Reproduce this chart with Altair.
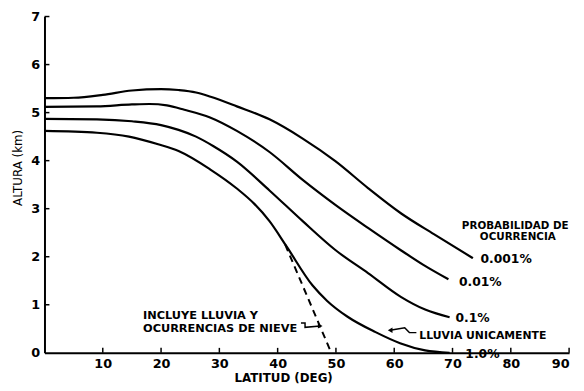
import altair as alt
import pandas as pd

# curve data (latitude in deg, altitude in km)
lat_0001 = [0, 5, 10, 15, 20, 23, 26, 28.5, 33, 38.6, 44.3, 49.9, 55.5, 61.2, 66.8, 73.5]
alt_0001 = [5.30, 5.31, 5.37, 5.46, 5.49, 5.47, 5.42, 5.33, 5.13, 4.86, 4.46, 3.99, 3.43, 2.90, 2.47, 1.97]

lat_001 = [0, 9, 15, 18, 21, 24, 28.4, 33, 38.6, 44.3, 49.9, 55.5, 61.2, 65, 69.3]
alt_001 = [5.12, 5.13, 5.17, 5.18, 5.15, 5.06, 4.90, 4.62, 4.18, 3.60, 3.08, 2.60, 2.13, 1.83, 1.53]

lat_01 = [0, 9, 15, 20, 23, 26, 29, 33, 38.6, 44.3, 49.9, 55.5, 61.2, 65.3, 69.5]
alt_01 = [4.87, 4.86, 4.82, 4.74, 4.64, 4.50, 4.30, 3.98, 3.38, 2.74, 2.14, 1.66, 1.16, 0.90, 0.74]

lat_1 = [0, 9, 14.5, 19.5, 23, 28.4, 33, 36, 38.6, 41.5, 46, 48.5, 52, 56.8, 61, 65.3, 69.5]
alt_1 = [4.62, 4.58, 4.50, 4.34, 4.20, 3.82, 3.42, 3.10, 2.74, 2.22, 1.40, 1.08, 0.75, 0.43, 0.20, 0.05, 0.0]

curve_names = ["0.001%", "0.01%", "0.1%", "1.0%"]

# dashed line (rain + snow)
dash_lat = [41.3, 49.2]
dash_alt = [2.25, 0.0]

# small arrow polylines
nieve_lat = [44.0, 44.7, 44.7, 47.3]
nieve_alt = [0.62, 0.62, 0.53, 0.56]
lluvia_lat = [59.3, 61.8, 62.6, 63.8]
lluvia_alt = [0.47, 0.52, 0.42, 0.42]

# labels
label_texts = ["PROBABILIDAD DE", "OCURRENCIA", "0.001%", "0.01%", "0.1%", "1.0%",
               "LLUVIA UNICAMENTE", "INCLUYE LLUVIA Y", "OCURRENCIAS DE NIEVE"]
label_lat = [71.6, 81.2, 74.8, 71.1, 70.5, 72.2, 64.3, 16.9, 16.9]
label_alt = [2.63, 2.41, 1.95, 1.48, 0.72, -0.03, 0.35, 0.76, 0.49]
label_align = ["left", "center", "left", "left", "left", "left", "left", "left", "left"]
label_size = [10.5, 10.5, 12.5, 12.5, 12.5, 12.5, 11, 11.5, 11.5]

x_ticks = [10, 20, 30, 40, 50, 60, 70, 80, 90]
y_ticks = [0, 1, 2, 3, 4, 5, 6, 7]

W, H = 532, 341
FONT = "DejaVu Sans"

rows = []
for name, la, al in zip(curve_names, [lat_0001, lat_001, lat_01, lat_1],
                        [alt_0001, alt_001, alt_01, alt_1]):
    for i, (a, b) in enumerate(zip(la, al)):
        rows.append({"curve": name, "lat": a, "alt": b, "o": i})
curves = pd.DataFrame(rows)

xs = alt.Scale(domain=[0, 90], nice=False)
ys = alt.Scale(domain=[0, 7], nice=False)

X = alt.X("lat:Q", scale=xs,
          axis=alt.Axis(values=x_ticks, title="LATITUD (DEG)", grid=False, ticks=False,
                        domainColor="black", domainWidth=2, labelFont=FONT, labelFontSize=13,
                        labelFontWeight="bold", labelColor="black", labelPadding=5,
                        titleFont=FONT, titleFontSize=12, titleFontWeight="bold",
                        titleColor="black", titleX=242, titleY=25, titleBaseline="middle"))
Y = alt.Y("alt:Q", scale=ys,
          axis=alt.Axis(values=y_ticks, title="ALTURA (km)", grid=False, ticks=False,
                        domainColor="black", domainWidth=2, labelFont=FONT, labelFontSize=13,
                        labelFontWeight="bold", labelColor="black", labelPadding=5,
                        titleFont=FONT, titleFontSize=12, titleFontWeight="normal",
                        titleColor="black", titleX=-27, titleY=153, titleAngle=-90,
                        titleBaseline="middle"))

lines = alt.Chart(curves).mark_line(color="black", strokeWidth=2.2, interpolate="monotone").encode(
    x=X, y=Y, detail="curve:N", order="o:Q")

dash_df = pd.DataFrame({"lat": dash_lat, "alt": dash_alt})
dash = alt.Chart(dash_df).mark_line(color="black", strokeWidth=2, strokeDash=[7, 5]).encode(
    x=alt.X("lat:Q", scale=xs), y=alt.Y("alt:Q", scale=ys))

arr_rows = []
for name, la, al in [("n", nieve_lat, nieve_alt), ("l", lluvia_lat, lluvia_alt)]:
    for i, (a, b) in enumerate(zip(la, al)):
        arr_rows.append({"g": name, "lat": a, "alt": b, "o": i})
arr_df = pd.DataFrame(arr_rows)
arrows = alt.Chart(arr_df).mark_line(color="black", strokeWidth=1.5).encode(
    x=alt.X("lat:Q", scale=xs), y=alt.Y("alt:Q", scale=ys), detail="g:N", order="o:Q")

heads_df = pd.DataFrame({"lat": [nieve_lat[-1], lluvia_lat[0]],
                         "alt": [nieve_alt[-1], lluvia_alt[0]],
                         "shape": ["triangle-right", "triangle-left"]})
heads = alt.Chart(heads_df).mark_point(filled=True, color="black", size=30, opacity=1).encode(
    x=alt.X("lat:Q", scale=xs), y=alt.Y("alt:Q", scale=ys),
    shape=alt.Shape("shape:N", scale=None, legend=None))

lab_df = pd.DataFrame({"t": label_texts, "lat": label_lat, "alt": label_alt,
                       "al": label_align, "s": label_size})
label_layers = []
for al_ in ["left", "center"]:
    for s_ in sorted(set(label_size)):
        sub = lab_df[(lab_df.al == al_) & (lab_df.s == s_)]
        if len(sub) == 0:
            continue
        label_layers.append(
            alt.Chart(sub).mark_text(align=al_, baseline="middle", font=FONT, fontSize=s_,
                                     fontWeight="bold", color="black").encode(
                x=alt.X("lat:Q", scale=xs), y=alt.Y("alt:Q", scale=ys), text="t:N"))

ytick_df = pd.DataFrame({"alt": y_ticks[1:]})
yticks = alt.Chart(ytick_df).mark_rule(color="black", strokeWidth=1.5).encode(
    y=alt.Y("alt:Q", scale=ys), x=alt.value(0), x2=alt.value(5))
xtick_df = pd.DataFrame({"lat": x_ticks})
xticks = alt.Chart(xtick_df).mark_rule(color="black", strokeWidth=1.5).encode(
    x=alt.X("lat:Q", scale=xs), y=alt.value(H), y2=alt.value(H - 5))

chart = alt.layer(lines, dash, arrows, heads, yticks, xticks, *label_layers).properties(
    width=W, height=H,
    autosize=alt.AutoSizeParams(type="none"),
    padding={"left": 37, "top": 6, "right": 7, "bottom": 30},
    background="white",
).configure_view(stroke=None)

chart.save("out.html", embed_options={"renderer": "svg", "actions": False})
